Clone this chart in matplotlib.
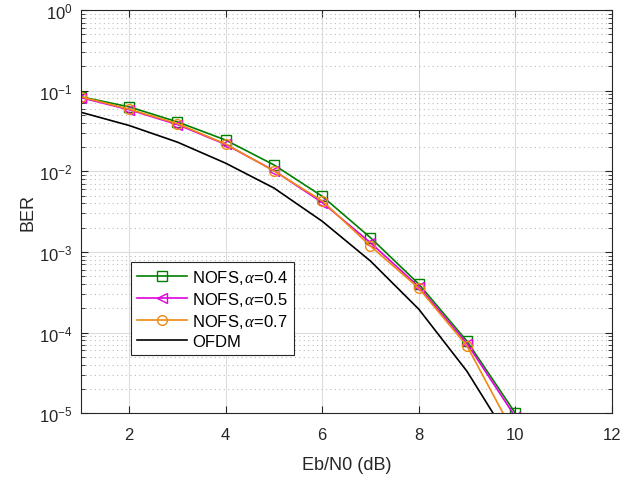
import numpy as np
import matplotlib.pyplot as plt
from matplotlib.ticker import LogLocator, NullFormatter, FixedLocator

plt.rcParams['font.family'] = ['Liberation Sans', 'DejaVu Sans']
plt.rcParams['mathtext.fontset'] = 'custom'
plt.rcParams['mathtext.rm'] = 'Liberation Sans'
plt.rcParams['mathtext.it'] = 'Liberation Serif:italic'

ebn0 = [1, 2, 3, 4, 5, 6, 7, 8, 9, 10]
ber_a04 = [0.084, 0.063, 0.041, 0.0244, 0.012, 0.0049, 0.0015, 4.0e-4, 7.8e-5, 1.0e-5]
ber_a05 = [0.082, 0.058, 0.038, 0.0215, 0.0102, 0.0041, 0.0013, 3.7e-4, 7.3e-5, 9.0e-6]
ber_a07 = [0.084, 0.059, 0.039, 0.0218, 0.0101, 0.0043, 0.00118, 3.55e-4, 6.8e-5, 5.2e-6]
ber_ofdm = [0.054, 0.037, 0.023, 0.0126, 0.0062, 0.0024, 7.7e-4, 1.95e-4, 3.3e-5, 3.6e-6]

fig = plt.figure(figsize=(6.42, 4.81), dpi=100)
ax = fig.add_axes([0.126, 0.139, 0.827, 0.838])

ax.semilogy(ebn0, ber_a04, '-s', color='#008000', mfc='none', ms=7, lw=1.2,
            label=r'NOFS,$\,\alpha$=0.4')
ax.semilogy(ebn0, ber_a05, '-<', color='#e000e0', mfc='none', ms=7, lw=1.2,
            label=r'NOFS,$\,\alpha$=0.5')
ax.semilogy(ebn0, ber_a07, '-o', color='#ee8a12', mfc='none', ms=7, lw=1.2,
            label=r'NOFS,$\,\alpha$=0.7')
ax.semilogy(ebn0, ber_ofdm, '-', color='black', lw=1.2, label='OFDM')

ax.set_xlim(1, 12)
ax.set_ylim(1e-5, 1)
ax.xaxis.set_major_locator(FixedLocator([2, 4, 6, 8, 10, 12]))
ax.yaxis.set_major_locator(LogLocator(base=10, numticks=10))
ax.yaxis.set_minor_locator(LogLocator(base=10, subs=np.arange(2, 10), numticks=10))
ax.yaxis.set_minor_formatter(NullFormatter())

ax.grid(True, which='major', color='#dcdcdc', lw=0.8, ls='-')
ax.grid(True, which='minor', axis='y', color='#bdbdbd', lw=0.8, ls=(0, (1, 3)))
ax.set_axisbelow(True)

ax.tick_params(which='both', direction='in', top=True, right=True,
               labelsize=12, colors='#262626')
ax.tick_params(which='major', length=5)
ax.tick_params(which='minor', length=3)
ax.tick_params(axis='x', pad=10)
ax.tick_params(axis='y', pad=6)
for s in ax.spines.values():
    s.set_color('#262626')
    s.set_linewidth(0.8)

ax.set_xlabel('Eb/N0 (dB)', fontsize=13, color='#262626', labelpad=10)
ax.set_ylabel('BER', fontsize=13, color='#262626', labelpad=2)

leg = ax.legend(loc='lower left', bbox_to_anchor=(0.095, 0.144), borderaxespad=0,
                fontsize=12, fancybox=False, framealpha=1, edgecolor='#262626',
                handlelength=3.0, handletextpad=0.3, borderpad=0.35,
                labelspacing=0.25)
leg.get_frame().set_linewidth(0.8)

fig.savefig('out.png', dpi=100)
